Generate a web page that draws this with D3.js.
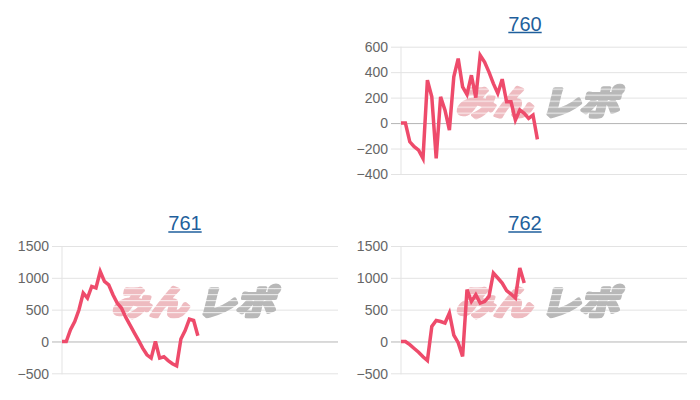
<!DOCTYPE html>
<meta charset="utf-8">
<style>
body { margin: 0; background: #fff; }
.axis text { font: 14px "Liberation Sans", Arial, sans-serif; fill: #666; }
.title { font: 20px "Liberation Sans", Arial, sans-serif; fill: #1f5f9c; }
</style>
<svg id="chart" width="700" height="400"></svg>
<script src="https://d3js.org/d3.v7.min.js"></script>
<script>

// number of slots on the (hidden) x axis
var slotCount = 66;

var machines = ["760", "761", "762"];

var diff760 = [0, 0, -147, -186, -212, -277, 337, 206, -277, 206, 102, -55, 363, 507, 285, 225,
  376, 200, 533, 480, 400, 310, 233, 345, 167, 167, 24, 102, 76, 37, 63, -128];
var diff761 = [0, 0, 184, 314, 498, 761, 682, 865, 840, 1100, 943, 891, 734, 604, 525, 382, 261,
  140, 20, -104, -209, -261, 0, -261, -240, -300, -350, -382, 40, 170, 352, 330, 90];
var diff762 = [0, 0, -50, -110, -170, -240, -299, 236, 330, 314, 289, 446, 100, -20, -236, 813,
  629, 734, 604, 629, 708, 1075, 997, 918, 800, 745, 682, 1154, 918];

var ticks760 = [-400, -200, 0, 200, 400, 600];
var ticks761 = [-500, 0, 500, 1000, 1500];
var ticks762 = [-500, 0, 500, 1000, 1500];

var svg = d3.select("#chart");

// striped mask for the watermark logo
var defs = svg.append("defs");
var pat = defs.append("pattern")
    .attr("id", "stripes")
    .attr("patternUnits", "userSpaceOnUse")
    .attr("width", 8).attr("height", 6);
pat.append("rect").attr("width", 8).attr("height", 6).attr("fill", "#fff");
pat.append("rect").attr("y", 4.5).attr("width", 8).attr("height", 0.8).attr("fill", "#000");
defs.append("mask").attr("id", "logoMask")
    .attr("maskUnits", "userSpaceOnUse")
    .attr("x", -300).attr("y", -300).attr("width", 600).attr("height", 600)
  .append("rect").attr("x", -300).attr("y", -300).attr("width", 600).attr("height", 600)
    .attr("fill", "url(#stripes)");

var panels = [
  {name: machines[0], data: diff760, ticks: ticks760, left: 401, right: 687, top: 46.7, bottom: 174, titleX: 525, titleY: 30.5},
  {name: machines[1], data: diff761, ticks: ticks761, left: 62, right: 338, top: 246, bottom: 373.3, titleX: 185, titleY: 230},
  {name: machines[2], data: diff762, ticks: ticks762, left: 401, right: 687, top: 246, bottom: 373.3, titleX: 525, titleY: 230}
];

panels.forEach(function(p) {
  var x = d3.scaleLinear().domain([0, slotCount - 1]).range([p.left, p.right]);
  var y = d3.scaleLinear().domain(d3.extent(p.ticks)).range([p.bottom, p.top]);

  var g = svg.append("g");

  // title (link-like, underlined)
  var t = g.append("text")
      .attr("class", "title")
      .attr("x", p.titleX)
      .attr("y", p.titleY)
      .attr("text-anchor", "middle")
      .text(p.name);
  var tw = t.node().getComputedTextLength();
  g.append("line")
      .attr("x1", p.titleX - tw / 2).attr("x2", p.titleX + tw / 2)
      .attr("y1", p.titleY + 2).attr("y2", p.titleY + 2)
      .attr("stroke", "#1f5f9c").attr("stroke-width", 1.3);

  // grid + y axis
  var axis = d3.axisLeft(y)
      .tickValues(p.ticks)
      .tickSize(-(p.right - p.left) - 10)
      .tickPadding(2)
      .tickFormat(d3.format("d"));

  var ax = g.append("g")
      .attr("class", "axis")
      .attr("transform", "translate(" + (p.left - 10) + ",0)")
      .call(axis);
  ax.select(".domain").remove();
  ax.selectAll(".tick line")
      .attr("x1", 0)
      .attr("x2", p.right - p.left + 10)
      .attr("stroke", function(d) { return d === 0 ? "#b5b5b5" : "#e3e3e3"; });
  ax.selectAll(".tick text").attr("x", -3).attr("dy", "0.34em");

  g.append("line")
      .attr("x1", p.left).attr("x2", p.left)
      .attr("y1", p.top).attr("y2", p.bottom + 1)
      .attr("stroke", "#e3e3e3");

  // watermark
  var cx = (p.left + p.right) / 2 - 3,
      cy = (p.top + p.bottom) / 2 - 8;
  var wm = g.append("g")
      .attr("transform", "translate(" + cx + "," + cy + ") skewX(-14)")
    .append("g")
      .attr("mask", "url(#logoMask)");
  wm.append("text")
      .attr("x", -82).attr("y", 13)
      .attr("textLength", 76)
      .attr("lengthAdjust", "spacingAndGlyphs")
      .style("font", "bold 34px 'Noto Sans CJK JP'")
      .attr("fill", "#eebbc0")
      .attr("stroke", "#eebbc0")
      .attr("stroke-width", 4)
      .attr("stroke-linejoin", "round")
      .text("みん");
  wm.append("text")
      .attr("x", 3).attr("y", 13)
      .attr("textLength", 78)
      .attr("lengthAdjust", "spacingAndGlyphs")
      .style("font", "bold 34px 'Noto Sans CJK JP'")
      .attr("fill", "#b8b8b8")
      .attr("stroke", "#b8b8b8")
      .attr("stroke-width", 4)
      .attr("stroke-linejoin", "round")
      .text("レポ");

  // difference line
  var line = d3.line()
      .x(function(d, i) { return x(i); })
      .y(function(d) { return y(d); });

  g.append("path")
      .datum(p.data)
      .attr("fill", "none")
      .attr("stroke", "#ee4b6b")
      .attr("stroke-width", 3.5)
      .attr("stroke-linejoin", "miter")
      .attr("d", line);
});

</script>
